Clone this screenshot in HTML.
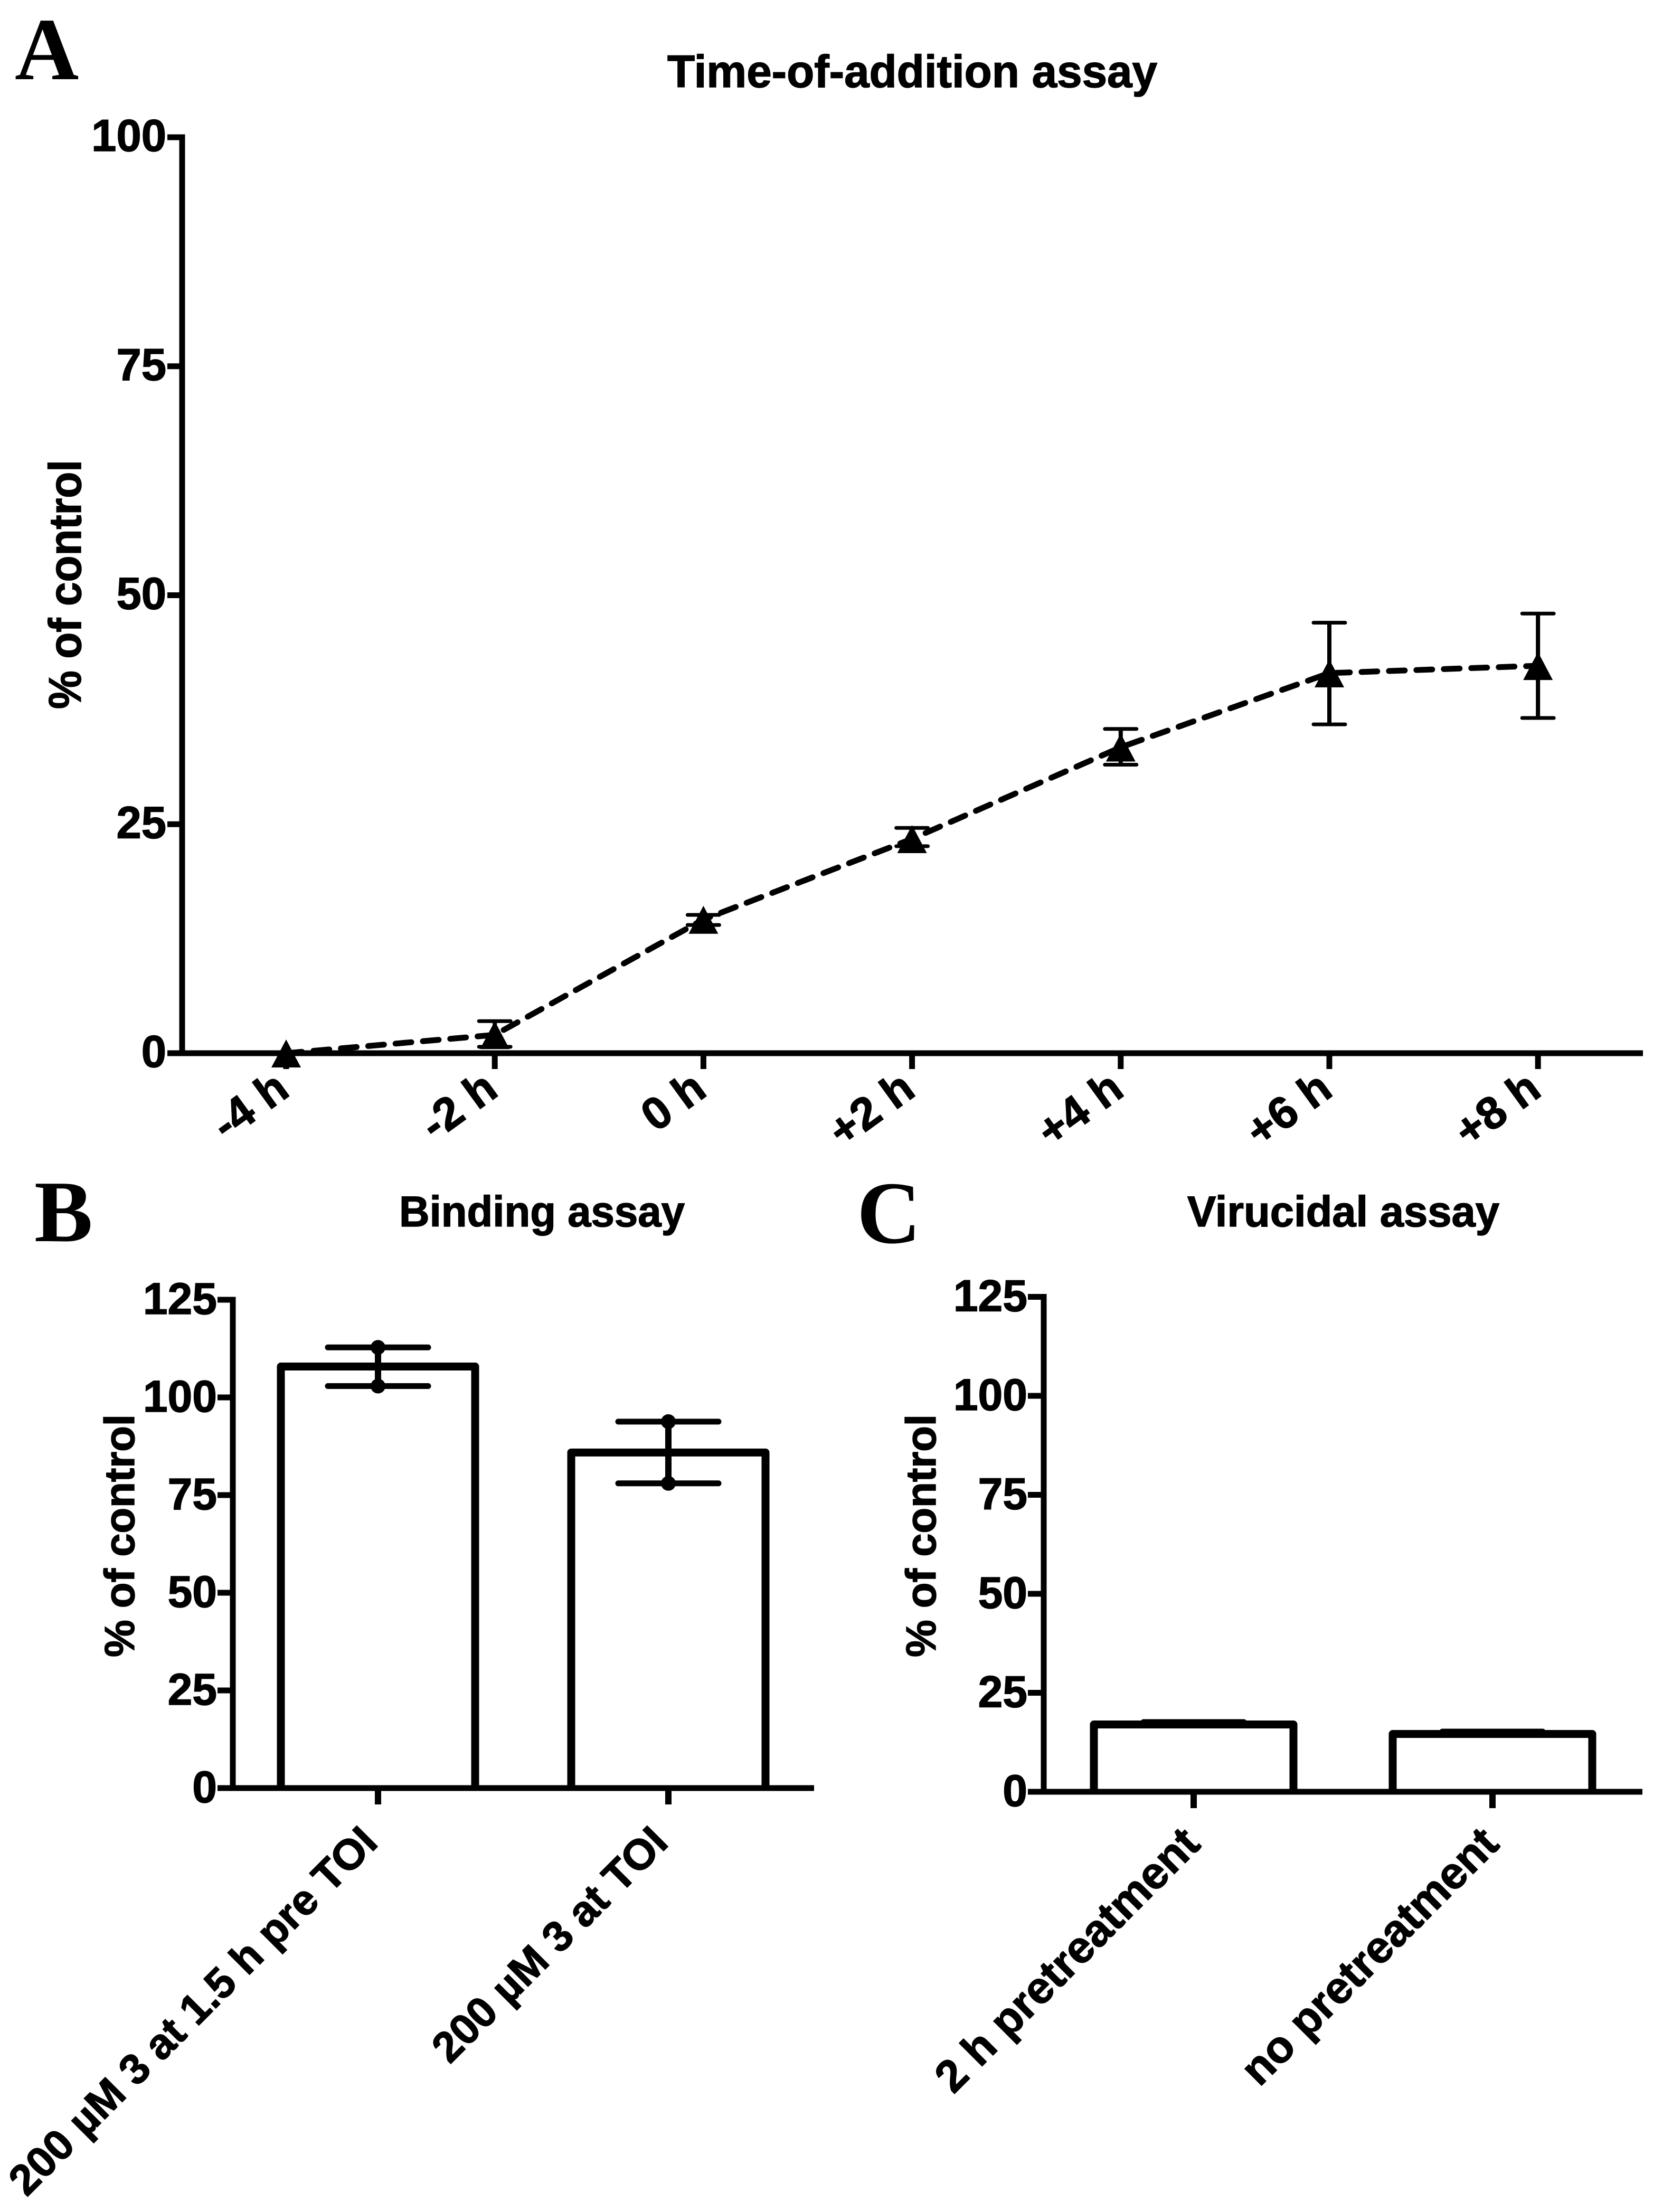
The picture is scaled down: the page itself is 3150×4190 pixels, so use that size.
<!DOCTYPE html>
<html lang="en">
<head>
<meta charset="utf-8">
<title>Time-of-addition, binding and virucidal assays</title>
<style>
  html, body { margin: 0; padding: 0; background: #ffffff; }
  svg { display: block; }
  text { font-family: "Liberation Sans", sans-serif; font-weight: bold; fill: #000; stroke: #000; stroke-width: 1.5px; }
  .panel-letter { font-family: "Liberation Serif", serif; stroke: none; }
</style>
</head>
<body>
<svg id="figure" xmlns="http://www.w3.org/2000/svg" width="3150" height="4190" viewBox="0 0 3150 4190">
  <rect x="0" y="0" width="3150" height="4190" fill="#ffffff"/>

  <text class="panel-letter" x="28" y="150" font-size="168">A</text>
  <text x="1264" y="165" font-size="86" textLength="928" lengthAdjust="spacingAndGlyphs">Time-of-addition assay</text>
  <text transform="translate(153 1343) rotate(-90)" x="0" y="0" font-size="86" textLength="472" lengthAdjust="spacingAndGlyphs">% of control</text>

  <text class="panel-letter" x="65" y="2351" font-size="166">B</text>
  <text x="756" y="2323" font-size="82" textLength="541" lengthAdjust="spacingAndGlyphs">Binding assay</text>
  <text transform="translate(254 3139) rotate(-90)" x="0" y="0" font-size="80" textLength="460" lengthAdjust="spacingAndGlyphs">% of control</text>

  <text class="panel-letter" x="1623" y="2354" font-size="168">C</text>
  <text x="2249" y="2323" font-size="82" textLength="591" lengthAdjust="spacingAndGlyphs">Virucidal assay</text>
  <text transform="translate(1772 3139) rotate(-90)" x="0" y="0" font-size="80" textLength="460" lengthAdjust="spacingAndGlyphs">% of control</text>

  <g id="panel-a"></g>
  <g id="panel-b"></g>
  <g id="panel-c"></g>
</svg>

<script>
// Panel A data
const timeCategories = ['-4 h', '-2 h', '0 h', '+2 h', '+4 h', '+6 h', '+8 h'];
const timeMeans = [0, 2, 14.6, 23.4, 33.4, 41.5, 42.3];
const timeUpper = [0, 3.5, 15.1, 24.6, 35.4, 47, 48];
const timeLower = [0, 0.7, 14, 22.6, 31.5, 35.9, 36.6];
const timeTicks = [0, 25, 50, 75, 100];

// Panel B data
const bindingCategories = ['200 µM 3 at 1.5 h pre TOI', '200 µM 3 at TOI'];
const bindingMeans = [107.9, 85.9];
const bindingUpper = [112.8, 93.8];
const bindingLower = [102.9, 78];
const bindingTicks = [0, 25, 50, 75, 100, 125];

// Panel C data
const virucidalCategories = ['2 h pretreatment', 'no pretreatment'];
const virucidalMeans = [17, 14.6];
const virucidalUpper = [17.6, 15.2];
const virucidalLower = [16.8, 14.4];
const virucidalTicks = [0, 25, 50, 75, 100, 125];

const NS = 'http://www.w3.org/2000/svg';
function svgEl(parent, tag, attrs, text) {
  const el = document.createElementNS(NS, tag);
  for (const k in attrs) el.setAttribute(k, attrs[k]);
  if (text !== undefined) el.textContent = text;
  parent.appendChild(el);
  return el;
}

/* ---------- Panel A ---------- */
(function () {
  const g = document.getElementById('panel-a');
  const axisX = 345, axisY = 1995, unit = 17.35;
  const y = v => axisY - v * unit;
  const x = i => 542 + i * 395.2;

  timeTicks.forEach(t => {
    const tick = svgEl(g, 'rect', { x: 317, y: y(t) - 5.5, width: axisX - 317, height: 11, fill: '#000' });
    
    
    const label = svgEl(g, 'text', { x: 315, y: y(t) + 26, 'font-size': 85, 'text-anchor': 'end' }, String(t));
    
    
  });
  const yAxis = svgEl(g, 'rect', { x: axisX - 5.5, y: y(100) - 5.5, width: 11, height: axisY - y(100) + 11, fill: '#000' });
  
  
  const xAxis = svgEl(g, 'rect', { x: 317, y: axisY - 5.5, width: 3112 - 317, height: 11, fill: '#000' });
  
  

  timeCategories.forEach((c, i) => {
    const tick = svgEl(g, 'rect', { x: x(i) - 5.5, y: axisY, width: 11, height: 30, fill: '#000' });
    
    
    const label = svgEl(g, 'text', {
      transform: 'translate(' + (x(i) + 10) + ' 2073) rotate(-36)',
      'font-size': 86, 'text-anchor': 'end'
    }, c);
    
    
  });

  const line = svgEl(g, 'polyline', {
    points: timeMeans.map((v, i) => x(i) + ',' + y(v)).join(' '),
    fill: 'none', stroke: '#000', 'stroke-width': 11,
    'stroke-dasharray': '30 22', 'stroke-linecap': 'round', 'stroke-linejoin': 'round'
  });
  
  

  timeMeans.forEach((v, i) => {
    if (timeUpper[i] > timeLower[i]) {
      const stem = svgEl(g, 'line', { x1: x(i), x2: x(i), y1: y(timeUpper[i]), y2: y(timeLower[i]), stroke: '#000', 'stroke-width': 8 });
      
      
      const capTop = svgEl(g, 'line', { x1: x(i) - 30, x2: x(i) + 30, y1: y(timeUpper[i]), y2: y(timeUpper[i]), stroke: '#000', 'stroke-width': 7, 'stroke-linecap': 'round' });
      
      
      const capLow = svgEl(g, 'line', { x1: x(i) - 30, x2: x(i) + 30, y1: y(timeLower[i]), y2: y(timeLower[i]), stroke: '#000', 'stroke-width': 7, 'stroke-linecap': 'round' });
      
      
    }
    const px = x(i), py = y(v);
    const marker = svgEl(g, 'polygon', {
      points: px + ',' + (py - 26) + ' ' + (px + 28) + ',' + (py + 27) + ' ' + (px - 28) + ',' + (py + 27),
      fill: '#000'
    });
    
    
  });
})();

/* ---------- Panels B and C share one bar-chart drawer ---------- */
function drawBars(g, cats, means, upper, lower, ticks, o) {
  const y = v => o.axisY - v * o.unit;
  const x = i => o.firstX + i * o.stepX;

  ticks.forEach(t => {
    const tick = svgEl(g, 'rect', { x: o.tickLeft, y: y(t) - 5.5, width: o.axisX - o.tickLeft, height: 11, fill: '#000' });
    
    
    const label = svgEl(g, 'text', { x: o.tickLeft - 1, y: y(t) + 27, 'font-size': 84, 'text-anchor': 'end' }, String(t));
    
    
  });

  cats.forEach((c, i) => {
    const half = o.barHalf;
    const bar = svgEl(g, 'path', {
      d: 'M' + (x(i) - half) + ' ' + o.axisY + ' V' + y(means[i]) + ' H' + (x(i) + half) + ' V' + o.axisY,
      fill: '#fff', stroke: '#000', 'stroke-width': 15, 'stroke-linejoin': 'round'
    });
    
    

    const stem = svgEl(g, 'line', { x1: x(i), x2: x(i), y1: y(upper[i]), y2: y(lower[i]), stroke: '#000', 'stroke-width': 12 });
    
    
    const capTop = svgEl(g, 'line', { x1: x(i) - 95, x2: x(i) + 95, y1: y(upper[i]), y2: y(upper[i]), stroke: '#000', 'stroke-width': 11, 'stroke-linecap': 'round' });
    
    
    const capLow = svgEl(g, 'line', { x1: x(i) - 95, x2: x(i) + 95, y1: y(lower[i]), y2: y(lower[i]), stroke: '#000', 'stroke-width': 11, 'stroke-linecap': 'round' });
    
    

    if (o.dotRadius) {
      const dotTop = svgEl(g, 'circle', { cx: x(i), cy: y(upper[i]), r: o.dotRadius, fill: '#000' });
      
      
      const dotLow = svgEl(g, 'circle', { cx: x(i), cy: y(lower[i]), r: o.dotRadius, fill: '#000' });
      
      
    }

    const tick = svgEl(g, 'rect', { x: x(i) - 6, y: o.axisY, width: 12, height: 31, fill: '#000' });
    
    
    const label = svgEl(g, 'text', {
      transform: 'translate(' + (x(i) + o.labelDx) + ' ' + o.labelY + ') rotate(-45)',
      'font-size': o.labelSize, 'text-anchor': 'end'
    }, c);
    
    
  });

  const yAxis = svgEl(g, 'rect', { x: o.axisX - 5.5, y: y(ticks[ticks.length - 1]) - 5.5, width: 11, height: o.axisY - y(ticks[ticks.length - 1]) + 11, fill: '#000' });
  
  
  const xAxis = svgEl(g, 'rect', { x: o.tickLeft, y: o.axisY - 5.5, width: o.axisEnd - o.tickLeft, height: 11, fill: '#000' });
  
  
}

drawBars(document.getElementById('panel-b'), bindingCategories, bindingMeans, bindingUpper, bindingLower, bindingTicks, {
  axisX: 441, axisY: 3387, unit: 7.4, tickLeft: 412, axisEnd: 1542,
  firstX: 716, stepX: 550, barHalf: 184, dotRadius: 14, labelDx: 3, labelY: 3494, labelSize: 81
});
drawBars(document.getElementById('panel-c'), virucidalCategories, virucidalMeans, virucidalUpper, virucidalLower, virucidalTicks, {
  axisX: 1977, axisY: 3394, unit: 7.5, tickLeft: 1947, axisEnd: 3111,
  firstX: 2261, stepX: 566, barHalf: 189, dotRadius: 0, labelDx: 16, labelY: 3497, labelSize: 85
});
</script>
</body>
</html>
